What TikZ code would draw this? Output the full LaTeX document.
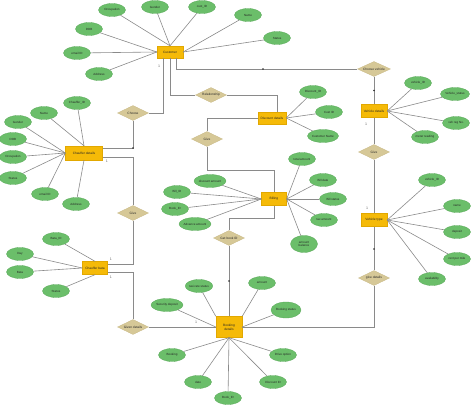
\documentclass[tikz,border=0pt]{standalone}
\usepackage{fontspec}
\setmainfont{Liberation Sans}
\usetikzlibrary{shapes.geometric,calc}
\definecolor{entfill}{HTML}{F5BA08}
\definecolor{entdraw}{HTML}{E2A800}
\definecolor{relfill}{HTML}{D6C897}
\definecolor{reldraw}{HTML}{C8B885}
\definecolor{attfill}{HTML}{6BBE6A}
\definecolor{attdraw}{HTML}{58A858}
\definecolor{linegray}{HTML}{8A8A8A}
\tikzset{
 ent/.style={rectangle, draw=entdraw, fill=entfill, line width=0.4pt, minimum width=26pt, minimum height=12pt, inner sep=0pt, font=\fontsize{3.2}{3.8}\selectfont, align=center, text=black!85},
 rel/.style={diamond, draw=reldraw, fill=relfill, line width=0.3pt, minimum width=31pt, minimum height=15pt, inner sep=0pt, aspect=2, font=\fontsize{3.2}{3.8}\selectfont, text=black!85},
 attr/.style={ellipse, draw=attdraw, fill=attfill, line width=0.3pt, minimum width=27pt, minimum height=13pt, inner sep=0pt, font=\fontsize{3}{3.6}\selectfont, align=center, text=black!85},
 conn/.style={draw=linegray, line width=0.6pt},
 dotm/.style={circle, fill=black!85, inner sep=0pt, minimum size=1.8pt},
 card/.style={font=\fontsize{3.6}{4}\selectfont, text=black!60, inner sep=0pt}
}
\begin{document}
\begin{tikzpicture}[x=1pt,y=-1pt]
\useasboundingbox (0,0) rectangle (474,406);
% entities
\node[ent] (cust) at (170,52) {Customer};
\node[ent, minimum width=37pt, minimum height=14pt] (chd) at (84,153) {Chauffer details};
\node[ent, minimum width=28pt] (disc) at (272,118) {Discount details};
\node[ent, minimum height=13pt] (veh) at (374,111) {Vehicle details};
\node[ent, minimum width=25pt, minimum height=13pt] (bill) at (274,199) {Billing};
\node[ent, minimum height=13pt] (vtype) at (374,220) {Vehicle type};
\node[ent, minimum width=25pt, minimum height=13pt] (bata) at (95,268) {Chauffer bata};
\node[ent, minimum height=21pt] (book) at (229,327) {Booking\\details};
% relationships
\node[rel] (r1) at (133,113) {Choose};
\node[rel] (r2) at (211,95) {Relationship};
\node[rel] (r3) at (207,139) {Give};
\node[rel, minimum width=33pt] (r4) at (374,69) {Choose vehicle};
\node[rel] (r5) at (374,152) {Give};
\node[rel] (r6) at (133,213) {Give};
\node[rel] (r7) at (229,238) {Get book ID};
\node[rel] (r8) at (374,278) {give details};
\node[rel] (r9) at (133,327) {Given details};
% customer attributes
\node[attr] (c1) at (112,10) {Occupation};
\node[attr] (c2) at (155,7) {Gender};
\node[attr] (c3) at (202,7) {cust\_ID};
\node[attr] (c4) at (248,15) {Name};
\node[attr] (c5) at (277,38) {Status};
\node[attr] (c6) at (89,29) {DOB};
\node[attr] (c7) at (77,53) {email ID};
\node[attr] (c8) at (99,74) {Address};
\foreach \a in {c1,c2,c3} \draw[conn] (\a) -- (cust.north);
\foreach \a in {c6,c7,c8} \draw[conn] (\a) -- (cust.west);
\foreach \a in {c4,c5} \draw[conn] (\a) -- (cust.east);
% chauffer details attributes
\node[attr] (h1) at (77,103) {Chauffer\_ID};
\node[attr] (h2) at (44,113) {Name};
\node[attr] (h3) at (18,122) {Gender};
\node[attr] (h4) at (13,139) {DOB};
\node[attr] (h5) at (13,157) {Occupation};
\node[attr] (h6) at (13,178) {Status};
\node[attr] (h7) at (45,194) {email ID};
\node[attr] (h8) at (76,204) {Address};
\foreach \a in {h1,h2} \draw[conn] (\a) -- (chd.north);
\foreach \a in {h3,h4,h5,h6,h7} \draw[conn] (\a) -- (chd.west);
\draw[conn] (h8) -- (chd.south);
% discount attributes
\node[attr] (d1) at (313,92) {Discount\_ID};
\node[attr] (d2) at (329,112) {Cust ID};
\node[attr, minimum width=31pt] (d3) at (323,136) {Customer Name};
\foreach \a in {d1,d2,d3} \draw[conn] (\a) -- (disc.east);
% vehicle details attributes
\node[attr] (v1) at (418,83) {vehicle\_ID};
\node[attr, minimum width=29pt] (v2) at (455,94) {Vehicle\_status};
\node[attr] (v3) at (456,123) {veh reg No.};
\node[attr] (v4) at (425,137) {meter reading};
\foreach \a in {v1,v2,v3,v4} \draw[conn] (\a) -- (veh.east);
% billing attributes
\node[attr] (b1) at (302,159) {total amount};
\node[attr] (b2) at (323,180) {Bill date};
\node[attr] (b3) at (333,199) {Bill status};
\node[attr] (b4) at (324,220) {tax amount};
\node[attr, minimum height=17pt] (b5) at (304,244) {amount\\balance};
\node[attr, minimum width=32pt] (b6) at (210,181) {discount amount};
\node[attr] (b7) at (177,192) {Bill\_ID};
\node[attr] (b8) at (175,209) {Book\_ID};
\node[attr, minimum width=32pt] (b9) at (195,224) {Advance amount};
\foreach \a in {b1,b2,b3,b4,b5} \draw[conn] (\a) -- (bill.east);
\foreach \a in {b6,b7,b8,b9} \draw[conn] (\a) -- (bill.west);
% vehicle type attributes
\node[attr] (t1) at (432,180) {vehicle\_ID};
\node[attr] (t2) at (457,206) {name};
\node[attr] (t3) at (457,232) {deposit};
\node[attr] (t4) at (457,259) {rent per mile};
\node[attr] (t5) at (432,279) {availability};
\foreach \a in {t1,t2,t3,t4,t5} \draw[conn] (\a) -- (vtype.east);
% chauffer bata attributes
\node[attr] (a1) at (56,239) {Bata\_ID};
\node[attr] (a2) at (20,254) {Day};
\node[attr] (a3) at (20,272) {Bata};
\node[attr] (a4) at (56,291) {Status};
\draw[conn] (a1) -- (bata.north);
\draw[conn] (a2) -- (bata.west);
\draw[conn] (a3) -- (bata.west);
\draw[conn] (a4) -- (bata.south);
% booking attributes
\node[attr] (k1) at (199,286) {taxi rate status};
\node[attr] (k2) at (262,283) {amount};
\node[attr, minimum width=32pt] (k3) at (167,305) {Security deposit};
\node[attr, minimum width=30pt, minimum height=16pt] (k4) at (286,310) {Booking status};
\node[attr] (k5) at (172,355) {Booking};
\node[attr] (k6) at (283,355) {Drive option};
\node[attr] (k7) at (198,382) {date};
\node[attr] (k8) at (273,382) {Discount ID};
\node[attr] (k9) at (228,398) {Book\_ID};
\draw[conn] (k1) -- (book.north west);
\draw[conn] (k3) -- (book.west);
\draw[conn] (k2) -- (book.north east);
\draw[conn] (k4) -- (book.east);
\foreach \a in {k5,k6,k7,k8,k9} \draw[conn] (\a) -- (book.south);
% relationship connectors
\draw[conn] ([xshift=6pt]cust.south) |- (r4.west) node[dotm, pos=0.74] (m1) {};
\draw[conn] (r4.south) -- (veh.north) node[dotm, pos=0.5] (m2) {};
\draw[conn] ([xshift=-7pt]cust.south) |- (r1.east);
\draw[conn] (r1.south) |- ([yshift=5pt]chd.east) node[dotm, pos=0.5] (m3) {};
\draw[conn] (cust.south) |- (r2.west);
\draw[conn] (r2.east) -| ([xshift=5pt]disc.north);
\draw[conn] (disc.west) -| (r3.north);
\draw[conn] (r3.south) -- ++(0,23.5) -| (bill.north);
\draw[conn] (bill.south) -- ++(0,12.5) -| (r7.north);
\draw[conn] (r7.south) -- (book.north) node[dotm, pos=0.5] (m4) {};
\draw[conn] ([yshift=-4pt]chd.east) -| (r6.north);
\draw[conn] (r6.south) |- ([yshift=4pt]bata.east);
\draw[conn] ([yshift=-4pt]bata.east) -| (r9.north);
\draw[conn] (r9.east) -- (book.west);
\draw[conn] (book.east) -| (r8.south);
\draw[conn] (r8.north) -- (vtype.south) node[dotm, pos=0.49] (m5) {};
\draw[conn] (vtype.north) -- (r5.south);
\draw[conn] (r5.north) -- (veh.south);
% cardinalities
\node[card] (l1) at (159,66) {1};
\node[card] (l2) at (107,161) {1};
\node[card] (l3) at (111,259) {1};
\node[card] (l4) at (111,277) {1};
\node[card] (l5) at (196,322) {1};
\node[card] (l6) at (367,208) {1};
\node[card] (l7) at (366,124) {1};
\end{tikzpicture}
\end{document}
